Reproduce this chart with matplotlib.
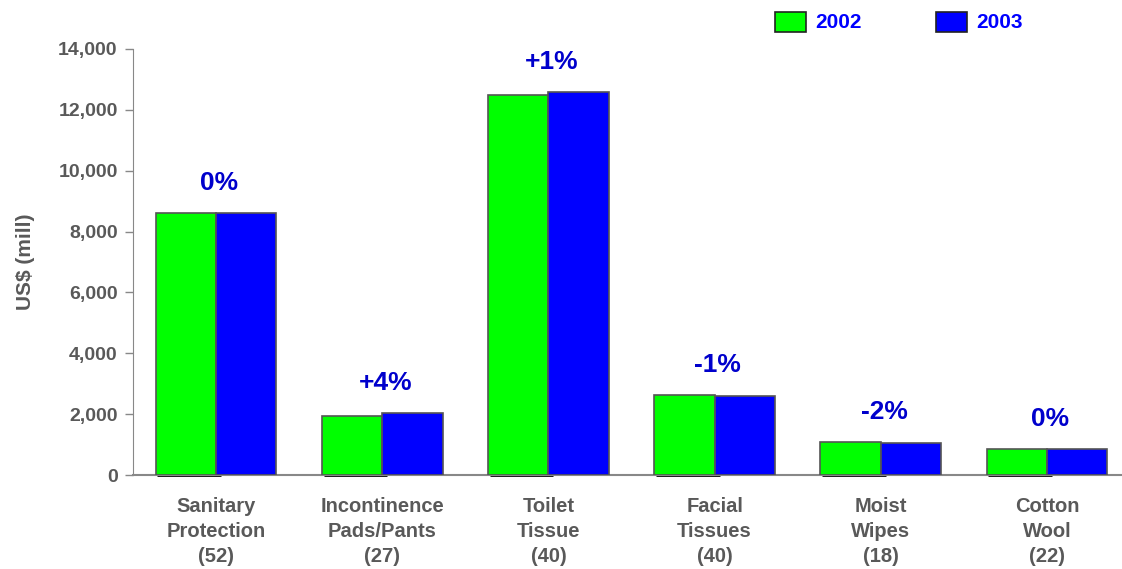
import matplotlib
matplotlib.use("Agg")
import matplotlib.pyplot as plt
from matplotlib.patches import Rectangle
from matplotlib.ticker import FuncFormatter
import numpy as np

categories = ["Sanitary\nProtection\n(52)", "Incontinence\nPads/Pants\n(27)", "Toilet\nTissue\n(40)",
              "Facial\nTissues\n(40)", "Moist\nWipes\n(18)", "Cotton\nWool\n(22)"]
values_2002 = [8600, 1950, 12480, 2620, 1080, 840]
values_2003 = [8600, 2030, 12580, 2600, 1050, 840]
changes = ["0%", "+4%", "+1%", "-1%", "-2%", "0%"]
series_names = ["2002", "2003"]

plt.rcParams['font.family'] = ['Liberation Sans', 'DejaVu Sans']
gray_text = "#595959"
edge = "#555555"

fig = plt.figure(figsize=(11.22, 5.69), dpi=100)
ax = fig.add_axes([133/1122, 1 - 475/569, (1130 - 133)/1122, (475 - 49)/569])

x = np.arange(len(categories))
w = 0.363
ax.bar(x - w/2, values_2002, w, color="#00FF00", edgecolor=edge, linewidth=1.2, zorder=3)
ax.bar(x + w/2, values_2003, w, color="#0000FF", edgecolor=edge, linewidth=1.2, zorder=3)

# dark underline beneath each 2002 bar along the base
for xi in x:
    ax.plot([xi - w + 0.01, xi + 0.03], [0, 0], color="black", lw=2, zorder=2,
            solid_capstyle="butt", clip_on=False)

for xi, a, b, lab in zip(x, values_2002, values_2003, changes):
    ax.annotate(lab, (xi + 0.02, max(a, b)), xytext=(0, 22), textcoords="offset points",
                ha="center", va="center", fontsize=19, fontweight="bold", color="#0000CC")

ax.set_xlim(-0.5, 5.5)
ax.set_ylim(0, 14000)
ax.set_yticks(np.arange(0, 14001, 2000))
ax.yaxis.set_major_formatter(FuncFormatter(lambda v, p: f"{int(v):,}"))
ax.set_xticks(x)
ax.set_xticklabels(categories, fontsize=14.5, fontweight="bold", color=gray_text, linespacing=1.4)
ax.tick_params(axis="x", length=0, pad=16)
ax.tick_params(axis="y", labelsize=14, labelcolor=gray_text, color="#888888", length=6, width=1, pad=5)
for lbl in ax.get_yticklabels():
    lbl.set_fontweight("bold")
ax.set_ylabel("US$ (mill)", fontsize=15, fontweight="bold", color=gray_text, labelpad=17)

for s in ["top", "right"]:
    ax.spines[s].set_visible(False)
ax.spines["left"].set_color("#888888")
ax.spines["bottom"].set_color("#888888")
ax.spines["bottom"].set_linewidth(1.5)

# legend drawn as boxes in figure pixel coordinates
def fig_px(px, py):
    return px / 1122, 1 - py / 569

for (lx, color, name) in [(775, "#00FF00", series_names[0]), (936, "#0000FF", series_names[1])]:
    x0, y0 = fig_px(lx, 32)
    fig.patches.append(Rectangle((x0, y0), 31/1122, 20/569, transform=fig.transFigure,
                                 facecolor=color, edgecolor="#222222", linewidth=1.2))
    tx, ty = fig_px(lx + 40, 23)
    fig.text(tx, ty, name, fontsize=15, fontweight="bold", color="#0000FF", va="center", ha="left")

fig.savefig("out.png", dpi=100)
